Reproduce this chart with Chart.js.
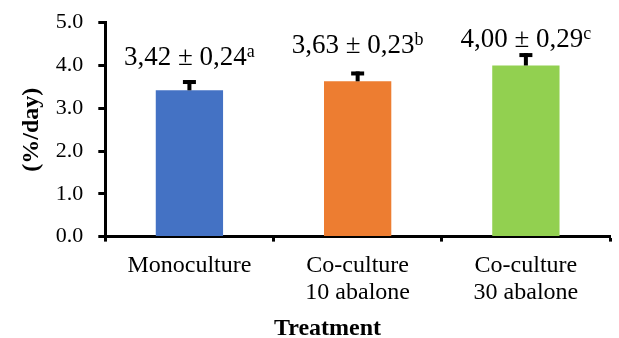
<!DOCTYPE html>
<html>
<head>
<meta charset="utf-8">
<script src="https://cdn.jsdelivr.net/npm/chart.js@4/dist/chart.umd.min.js"></script>
<style>
  html, body { margin: 0; padding: 0; background: #ffffff; }
  #wrap { width: 619px; height: 338px; position: relative; }
</style>
</head>
<body>
<div id="wrap"><canvas id="chart"></canvas></div>
<script>
// ---- data ----
const categories = [['Monoculture'], ['Co-culture', '10 abalone'], ['Co-culture', '30 abalone']];
const growthRate = [3.42, 3.63, 4.00];
const stdDev = [0.24, 0.23, 0.29];
const groupLetters = ['a', 'b', 'c'];
const barColors = ['#4472C4', '#ED7D31', '#92D050'];
const yTickValues = [0, 1, 2, 3, 4, 5];

const SERIF = '"Liberation Serif", "Times New Roman", serif';
const fmt = v => v.toFixed(2).replace('.', ',');

const errorBarPlugin = {
  id: 'errorBarsAndLabels',
  afterDatasetsDraw(chart, args, opts) {
    const ctx = chart.ctx;
    const yScale = chart.scales.y;
    const meta = chart.getDatasetMeta(0);
    meta.data.forEach((bar, i) => {
      const x = bar.x;
      const yVal = yScale.getPixelForValue(growthRate[i]);
      const yErr = yScale.getPixelForValue(growthRate[i] + stdDev[i]);
      ctx.save();
      ctx.fillStyle = '#000000';
      ctx.fillRect(x - 2, yErr, 4, yVal - yErr);
      ctx.fillRect(x - 6.5, yErr, 13, 4);
      const main = fmt(growthRate[i]) + ' \u00B1 ' + fmt(stdDev[i]);
      ctx.font = '27px ' + SERIF;
      const w1 = ctx.measureText(main).width;
      ctx.font = '18px ' + SERIF;
      const w2 = ctx.measureText(groupLetters[i]).width;
      const startX = x - (w1 + w2) / 2;
      const baseY = yErr - opts.offsets[i];
      ctx.textBaseline = 'alphabetic';
      ctx.textAlign = 'left';
      ctx.font = '27px ' + SERIF;
      ctx.fillText(main, startX, baseY);
      ctx.font = '18px ' + SERIF;
      ctx.fillText(groupLetters[i], startX + w1, baseY - 8);
      ctx.restore();
    });
  }
};

new Chart(document.getElementById('chart'), {
  type: 'bar',
  data: {
    labels: categories,
    datasets: [{
      data: growthRate,
      backgroundColor: barColors,
      borderWidth: 0,
      categoryPercentage: 1.0,
      barPercentage: 0.4
    }]
  },
  options: {
    responsive: true,
    maintainAspectRatio: false,
    animation: false,
    layout: { padding: { left: 45, right: 9, top: 17, bottom: 0 } },
    plugins: {
      legend: { display: false },
      tooltip: { enabled: false },
      title: {
        display: true,
        position: 'bottom',
        align: 'center',
        text: 'Treatment',
        color: '#000000',
        font: { family: SERIF, size: 24, weight: 'bold', lineHeight: 0.8 },
        padding: { top: 2, bottom: 0 }
      },
      errorBarsAndLabels: { offsets: [15, 18, 6] }
    },
    scales: {
      x: {
        grid: {
          display: true,
          drawOnChartArea: false,
          drawTicks: true,
          tickLength: 5,
          tickWidth: 3,
          tickColor: '#000000',
          offset: true
        },
        border: { display: true, color: '#000000', width: 3 },
        ticks: {
          color: '#000000',
          padding: 10,
          font: { family: SERIF, size: 24, lineHeight: 1.15 }
        },
        title: { display: false }
      },
      y: {
        min: 0,
        max: 5,
        afterBuildTicks(scale) { scale.ticks = yTickValues.map(v => ({ value: v })); },
        grid: {
          display: true,
          drawOnChartArea: false,
          drawTicks: true,
          tickLength: 7,
          tickWidth: 3,
          tickColor: '#000000'
        },
        border: { display: true, color: '#000000', width: 3 },
        ticks: {
          color: '#000000',
          padding: 15,
          font: { family: SERIF, size: 22, lineHeight: 0.7 },
          callback: v => Number(v).toFixed(1)
        },
        title: {
          display: true,
          text: '(%/day)',
          color: '#000000',
          font: { family: SERIF, size: 24, weight: 'bold', lineHeight: 1.2 },
          padding: { top: -28, bottom: -5 }
        }
      }
    }
  },
  plugins: [errorBarPlugin]
});
</script>
</body>
</html>
